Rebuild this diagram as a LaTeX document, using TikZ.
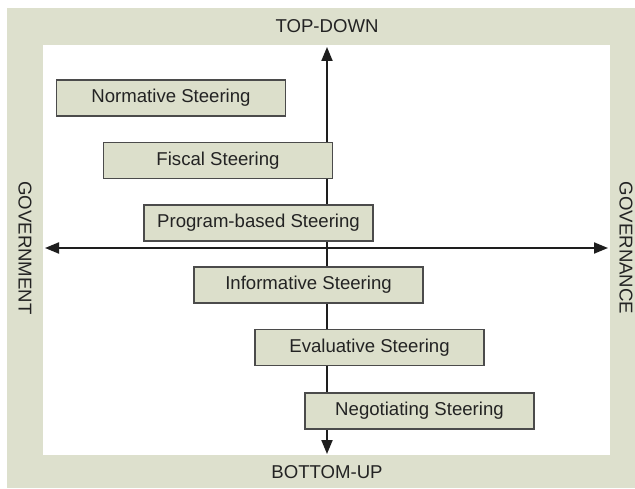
\documentclass[tikz,border=0pt]{standalone}
\usepackage{fontspec}
\setmainfont{Liberation Sans}
\usepackage{xcolor}
\usepackage{tikz}
\usetikzlibrary{arrows.meta,
positioning,
backgrounds}

\definecolor{frameback}{RGB}{221,224,205}
\definecolor{boxfill}{RGB}{220,223,203}
\definecolor{boxline}{RGB}{75,75,75}
\definecolor{axisline}{RGB}{30,30,30}
\definecolor{labeltext}{RGB}{35,35,35}

\begin{document}
\begin{tikzpicture}[
		x=1pt, y=-1pt,
		>={Triangle[length=14pt,width=11pt]},
		steering/.style={
			draw=boxline,
			line width=1.4pt,
			fill=boxfill,
			align=center,
			minimum width=229pt,
			minimum height=36pt,
			inner sep=0pt,
			text=labeltext,
			font=\fontsize{18.6}{22}\selectfont
		},
		axislabel/.style={
			text=labeltext,
			inner sep=0pt,
			font=\fontsize{18.6}{22}\selectfont
		},
		axis/.style={
			draw=axisline,
			line width=2pt
		}
		]
		
		% Frame
		\useasboundingbox (0,0) rectangle (635,489);
		\fill[white] (0,0) rectangle (635,489);
		\fill[frameback] (7,8) rectangle (635,488);
		\fill[white] (43,45) rectangle (610,455);
		
		% Axis ends
		\coordinate (topend) at (327,47);
		\coordinate (bottomend) at (327,454);
		\coordinate (leftend) at (45,248);
		\coordinate (rightend) at (608,248);
		
		% Axis labels
		\node[axislabel] (topdown) at (327,26) {TOP-DOWN};
		\node[axislabel] (bottomup) at (327,472) {BOTTOM-UP};
		\node[axislabel, rotate=-90] (government) at (25,248) {GOVERNMENT};
		\node[axislabel, rotate=-90] (governance) at (626,248) {GOVERNANCE};
		
		% Axes
		\draw[axis, <->] (topend) -- (bottomend);
		\draw[axis, <->] (leftend) -- (rightend);
		
		% Steering modes
		\node[steering] (normative) at (171,98) {Normative Steering};
		\node[steering] (fiscal) at (218,160.5) {Fiscal Steering};
		\node[steering] (program) at (258.5,223) {Program-based Steering};
		\node[steering] (informative) at (308.5,285) {Informative Steering};
		\node[steering] (evaluative) at (369.5,347.5) {Evaluative Steering};
		\node[steering] (negotiating) at (419.5,411) {Negotiating Steering};
		
	\end{tikzpicture}
\end{document}
